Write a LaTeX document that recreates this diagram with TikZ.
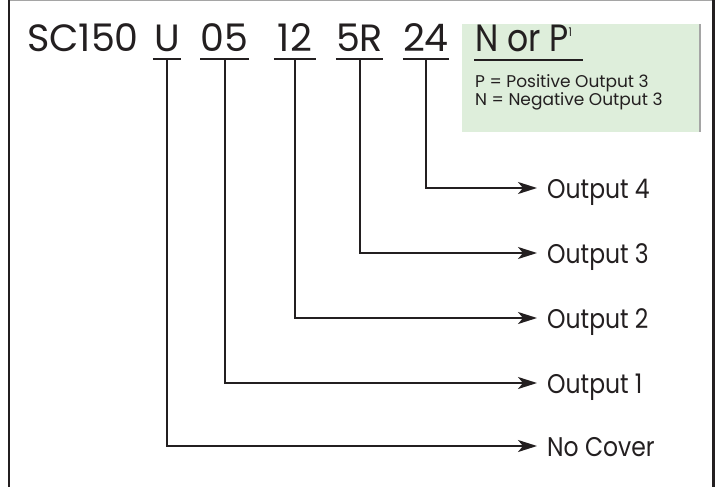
\documentclass[tikz,border=0pt]{standalone}
\usepackage{fontspec}
\setmainfont{Poppins}
\newfontfamily\narrowfont[FakeStretch=0.87]{Poppins}
\usetikzlibrary{arrows.meta,positioning}

\definecolor{keygreen}{RGB}{222,238,219}
\definecolor{edgegrey}{RGB}{165,165,165}
\definecolor{inkblack}{RGB}{35,31,32}

\tikzset{
  code/.style={anchor=base, inner xsep=0pt, inner ysep=0pt, text=inkblack,
    font=\fontsize{38}{38}\selectfont},
  uline/.style={draw=inkblack, line width=2.2pt},
  lead/.style={draw=inkblack, line width=2pt,
    -{Stealth[length=19pt,width=12pt,inset=5pt]}},
  outlabel/.style={anchor=west, inner xsep=10pt, inner ysep=0pt,
    text height=20pt, text depth=0pt, text=inkblack,
    font=\narrowfont\fontsize{27}{27}\selectfont},
  keytext/.style={anchor=base west, inner sep=0pt, text=inkblack,
    font=\fontsize{17}{17}\selectfont}
}

\begin{document}
\begin{tikzpicture}[x=1pt,y=-1pt]
\useasboundingbox (0,0) rectangle (717,487);

% frame
\draw[edgegrey, line width=1.5pt] (10,0.75) -- (712,0.75);
\draw[inkblack, line width=2.5pt] (9,0) -- (9,487);
\draw[inkblack, line width=3pt] (713.5,0) -- (713.5,487);

% key box
\fill[keygreen] (462,24) rectangle (700,132);
\draw[edgegrey, line width=1.5pt] (700,24) -- (700,132);

% part number
\node[code, anchor=base west] (sc) at (27,52) {SC150};
\node[code, minimum width=28pt] (u) at (167,52) {U};
\node[code, minimum width=43pt] (p05) at (224.5,52) {05};
\node[code, minimum width=42pt] (p12) at (295,52) {12};
\node[code, minimum width=43pt] (p5r) at (359.5,52) {5R};
\node[code, minimum width=42pt] (p24) at (426,52) {24};
\node[code, anchor=base west, font=\narrowfont\fontsize{38}{38}\selectfont] (np) at (475,52)
  {N or P\raisebox{15pt}{\fontsize{12}{12}\selectfont 1}};

\foreach \n in {u,p05,p12,p5r,p24}
  \draw[uline] ([yshift=-7pt]\n.base west) -- ([yshift=-7pt]\n.base east);
\draw[uline, line width=2.6pt] ([shift={(-1pt,-8pt)}]np.base west) -- ++(109pt,0);

\node[keytext] (keyp) at (475,88) {P = Positive Output 3};
\node[keytext] (keyn) at (475,105) {N = Negative Output 3};

% outputs
\node[outlabel] (o4) at (537,188) {Output 4};
\node[outlabel] (o3) at (537,253) {Output 3};
\node[outlabel] (o2) at (537,318) {Output 2};
\node[outlabel] (o1) at (537,383) {Output 1};
\node[outlabel] (nc) at (537,446) {No Cover};

\draw[lead] ([yshift=-7pt]p24.base) |- (o4.west);
\draw[lead] ([yshift=-7pt]p5r.base) |- (o3.west);
\draw[lead] ([yshift=-7pt]p12.base) |- (o2.west);
\draw[lead] ([yshift=-7pt]p05.base) |- (o1.west);
\draw[lead] ([yshift=-7pt]u.base) |- (nc.west);
\end{tikzpicture}
\end{document}
